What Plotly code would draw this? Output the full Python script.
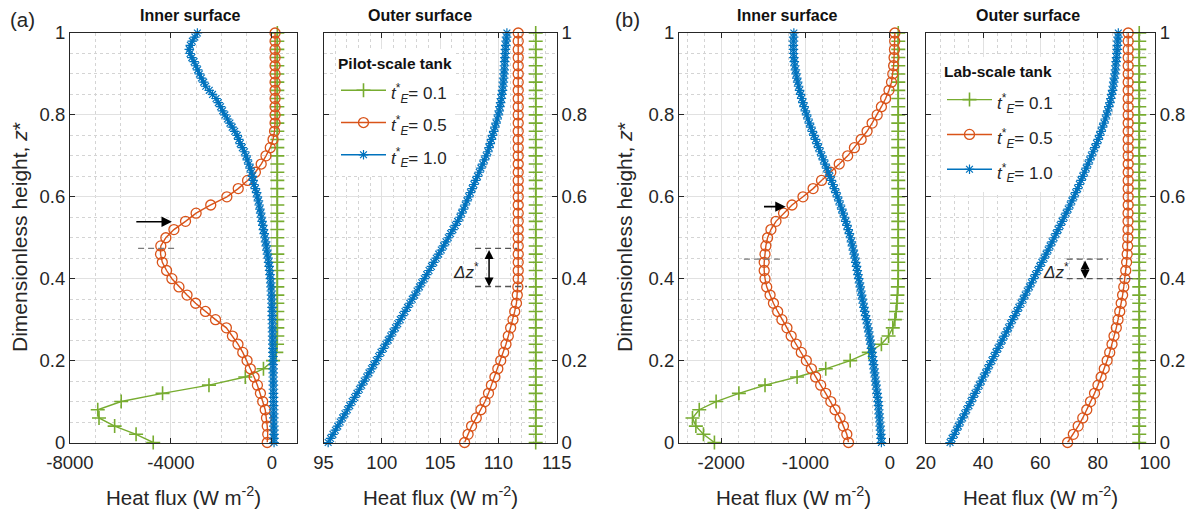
import plotly.graph_objects as go

# ---------------- data ----------------
Z_COARSE = [0.00, 0.02, 0.04, 0.06, 0.08, 0.10, 0.12, 0.14, 0.16, 0.18,
            0.20, 0.22, 0.24, 0.26, 0.28, 0.30, 0.32, 0.34, 0.36, 0.38,
            0.40, 0.42, 0.44, 0.46, 0.48, 0.50, 0.52, 0.54, 0.56, 0.58,
            0.60, 0.62, 0.64, 0.66, 0.68, 0.70, 0.72, 0.74, 0.76, 0.78,
            0.80, 0.82, 0.84, 0.86, 0.88, 0.90, 0.92, 0.94, 0.96, 0.98, 1.00]
Z_FINE = [0.00, 0.01, 0.02, 0.03, 0.04, 0.05, 0.06, 0.07, 0.08, 0.09,
          0.10, 0.11, 0.12, 0.13, 0.14, 0.15, 0.16, 0.17, 0.18, 0.19,
          0.20, 0.21, 0.22, 0.23, 0.24, 0.25, 0.26, 0.27, 0.28, 0.29,
          0.30, 0.31, 0.32, 0.33, 0.34, 0.35, 0.36, 0.37, 0.38, 0.39,
          0.40, 0.41, 0.42, 0.43, 0.44, 0.45, 0.46, 0.47, 0.48, 0.49,
          0.50, 0.51, 0.52, 0.53, 0.54, 0.55, 0.56, 0.57, 0.58, 0.59,
          0.60, 0.61, 0.62, 0.63, 0.64, 0.65, 0.66, 0.67, 0.68, 0.69,
          0.70, 0.71, 0.72, 0.73, 0.74, 0.75, 0.76, 0.77, 0.78, 0.79,
          0.80, 0.81, 0.82, 0.83, 0.84, 0.85, 0.86, 0.87, 0.88, 0.89,
          0.90, 0.91, 0.92, 0.93, 0.94, 0.95, 0.96, 0.97, 0.98, 0.99, 1.00]

SERIES_LABELS = ["0.1", "0.5", "1.0"]

# (a) pilot-scale tank, inner surface
A_IN_T01 = [-4700, -5380, -6230, -6850, -6900, -5970, -4330, -2490, -1050, -330,
            50, 180, 210, 220, 220, 220, 220, 220, 220, 220,
            220, 220, 220, 220, 220, 220, 220, 220, 220, 220,
            220, 220, 220, 220, 220, 220, 220, 220, 220, 220,
            220, 220, 220, 220, 220, 220, 220, 220, 220, 220, 220]
A_IN_T05 = [-180, -160, -180, -210, -260, -360, -450, -570, -700, -850,
            -980, -1150, -1340, -1560, -1800, -2230, -2630, -3020, -3360, -3680,
            -3960, -4170, -4340, -4410, -4400, -4200, -3880, -3420, -3000, -2420,
            -1780, -1330, -960, -650, -420, -230, -60, 50, 110, 130,
            130, 130, 130, 130, 130, 130, 130, 130, 130, 130, 130]
A_IN_T10 = [90, 88, 86, 84, 82, 80, 79, 77, 75, 73,
            71, 69, 67, 65, 63, 61, 59, 57, 55, 52,
            50, 48, 45, 43, 40, 37, 34, 31, 28, 25,
            22, 18, 15, 10, 5, 0, -10, -20, -30, -40,
            -55, -70, -85, -105, -125, -145, -170, -195, -220, -245,
            -270, -300, -330, -355, -385, -410, -440, -470, -500, -530,
            -570, -600, -650, -710, -740, -770, -800, -860, -910, -970,
            -1020, -1080, -1170, -1250, -1310, -1370, -1470, -1570, -1660, -1760,
            -1860, -1950, -2030, -2120, -2210, -2350, -2480, -2620, -2700, -2790,
            -2870, -2940, -3010, -3080, -3170, -3240, -3270, -3230, -3150, -3050, -2950]

# (a) pilot-scale tank, outer surface
A_OUT_T01 = [113.2, 113.2, 113.2, 113.2, 113.2, 113.2, 113.2, 113.2, 113.2, 113.2,
             113.2, 113.2, 113.2, 113.2, 113.2, 113.2, 113.2, 113.2, 113.2, 113.2,
             113.2, 113.2, 113.2, 113.2, 113.2, 113.2, 113.2, 113.2, 113.2, 113.2,
             113.2, 113.2, 113.2, 113.2, 113.2, 113.2, 113.2, 113.2, 113.2, 113.2,
             113.2, 113.2, 113.2, 113.2, 113.2, 113.2, 113.2, 113.2, 113.2, 113.2, 113.2]
A_OUT_T05 = [107.1, 107.4, 107.7, 108.1, 108.5, 108.85, 109.15, 109.4, 109.7, 109.95,
             110.2, 110.45, 110.65, 110.85, 111.05, 111.25, 111.4, 111.55, 111.62, 111.67,
             111.7, 111.7, 111.7, 111.7, 111.7, 111.7, 111.7, 111.7, 111.7, 111.7,
             111.7, 111.7, 111.7, 111.7, 111.7, 111.7, 111.7, 111.7, 111.7, 111.7,
             111.7, 111.7, 111.7, 111.7, 111.7, 111.7, 111.7, 111.7, 111.7, 111.7, 111.7]
A_OUT_T10 = [95.40, 95.61, 95.81, 96.02, 96.22, 96.43, 96.64, 96.84, 97.05, 97.25,
             97.46, 97.67, 97.87, 98.08, 98.28, 98.49, 98.70, 98.90, 99.11, 99.31,
             99.52, 99.73, 99.93, 100.14, 100.34, 100.55, 100.76, 100.96, 101.17, 101.37,
             101.58, 101.79, 101.99, 102.20, 102.40, 102.61, 102.82, 103.02, 103.23, 103.43,
             103.64, 103.85, 104.05, 104.26, 104.46, 104.67, 104.88, 105.1, 105.3, 105.5,
             105.7, 105.9, 106.1, 106.3, 106.5, 106.7, 106.85, 107.0, 107.15, 107.3,
             107.45, 107.6, 107.75, 107.9, 108.05, 108.2, 108.35, 108.5, 108.65, 108.8,
             108.95, 109.1, 109.2, 109.3, 109.4, 109.5, 109.6, 109.7, 109.8, 109.9,
             110.0, 110.07, 110.13, 110.19, 110.25, 110.3, 110.35, 110.39, 110.42, 110.45,
             110.48, 110.5, 110.52, 110.54, 110.56, 110.58, 110.6, 110.63, 110.66, 110.7, 110.73]

# (b) lab-scale tank, inner surface
B_IN_T01 = [-2080, -2210, -2300, -2340, -2260, -2060, -1790, -1480, -1100, -760,
            -470, -250, -100, -15, 35, 60, 75, 85, 90, 95,
            100, 100, 100, 100, 100, 100, 100, 100, 100, 100,
            100, 100, 100, 100, 100, 100, 100, 100, 100, 100,
            100, 100, 100, 100, 100, 100, 100, 100, 100, 100, 100]
B_IN_T05 = [-490, -510, -550, -590, -650, -700, -760, -820, -880, -930,
            -990, -1050, -1110, -1170, -1220, -1280, -1330, -1380, -1420, -1460,
            -1480, -1490, -1490, -1480, -1470, -1450, -1410, -1350, -1260, -1160,
            -1030, -910, -810, -700, -600, -500, -420, -340, -270, -210,
            -150, -100, -50, -10, 20, 35, 45, 50, 55, 58, 60]
B_IN_T10 = [-100, -103, -107, -111, -115, -119, -123, -127, -131, -135,
            -139, -145, -151, -157, -163, -169, -175, -181, -187, -193,
            -199, -205, -211, -218, -226, -234, -242, -250, -259, -268,
            -278, -288, -298, -307, -316, -325, -334, -342, -351, -360,
            -369, -378, -386, -395, -404, -413, -423, -433, -444, -455,
            -467, -480, -494, -508, -523, -538, -554, -570, -587, -604,
            -621, -639, -657, -675, -693, -711, -730, -749, -768, -787,
            -806, -825, -844, -863, -882, -901, -919, -937, -954, -971,
            -987, -1002, -1017, -1031, -1045, -1058, -1070, -1082, -1093, -1103,
            -1112, -1120, -1127, -1133, -1138, -1141, -1143, -1144, -1143, -1141, -1138]

# (b) lab-scale tank, outer surface
B_OUT_T01 = [94.5, 94.5, 94.5, 94.5, 94.5, 94.5, 94.5, 94.5, 94.5, 94.5,
             94.5, 94.5, 94.5, 94.5, 94.5, 94.5, 94.5, 94.5, 94.5, 94.5,
             94.5, 94.5, 94.5, 94.5, 94.5, 94.5, 94.5, 94.5, 94.5, 94.5,
             94.5, 94.5, 94.5, 94.5, 94.5, 94.5, 94.5, 94.5, 94.5, 94.5,
             94.5, 94.5, 94.5, 94.5, 94.5, 94.5, 94.5, 94.5, 94.5, 94.5, 94.5]
B_OUT_T05 = [69.5, 71.5, 73.2, 74.8, 76.2, 77.5, 78.9, 80.1, 81.2, 82.3,
             83.3, 84.2, 85.0, 85.7, 86.5, 87.1, 87.7, 88.2, 88.7, 89.1,
             89.5, 89.8, 90.1, 90.3, 90.45, 90.55, 90.6, 90.6, 90.6, 90.65,
             90.65, 90.65, 90.65, 90.65, 90.65, 90.65, 90.65, 90.65, 90.65, 90.65,
             90.65, 90.65, 90.65, 90.65, 90.65, 90.65, 90.65, 90.65, 90.65, 90.65, 90.65]
B_OUT_T10 = [28.5, 29.2, 30.0, 30.7, 31.4, 32.1, 32.9, 33.6, 34.3, 35.1,
             35.8, 36.5, 37.2, 38.0, 38.7, 39.4, 40.1, 40.9, 41.6, 42.3,
             43.1, 43.8, 44.5, 45.2, 46.0, 46.7, 47.4, 48.2, 48.9, 49.6,
             50.3, 51.1, 51.8, 52.5, 53.3, 54.0, 54.7, 55.4, 56.2, 56.9,
             57.6, 58.3, 59.1, 59.8, 60.5, 61.3, 62.0, 62.7, 63.4, 64.1,
             64.8, 65.5, 66.2, 66.9, 67.6, 68.3, 69.0, 69.7, 70.4, 71.0,
             71.7, 72.3, 73.0, 73.6, 74.2, 74.8, 75.4, 76.0, 76.6, 77.2,
             77.8, 78.4, 79.0, 79.6, 80.2, 80.7, 81.2, 81.7, 82.2, 82.7,
             83.1, 83.5, 83.9, 84.3, 84.6, 84.9, 85.2, 85.4, 85.6, 85.8,
             86.0, 86.2, 86.3, 86.45, 86.6, 86.7, 86.8, 86.9, 87.0, 87.1, 87.2]

# x-axis tick labels per panel
A_IN_TICKS = [-8000, -4000, 0]
A_IN_TICKTEXT = ["-8000", "-4000", "0"]
A_OUT_TICKS = [95, 100, 105, 110, 115]
B_IN_TICKS = [-2000, -1000, 0]
B_IN_TICKTEXT = ["-2000", "-1000", "0"]
B_OUT_TICKS = [20, 40, 60, 80, 100]
Y_TICKS = [0, 0.2, 0.4, 0.6, 0.8, 1]

# annotation geometry (data units)
A_IN_ARROW = dict(x0=-5430, x1=-3960, z=0.539)
A_IN_DASH = dict(x0=-5300, x1=-3720, z=0.474)
A_OUT_DASH_UP = dict(x0=108.0, x1=111.6, z=0.474)
A_OUT_DASH_LO = dict(x0=108.0, x1=112.45, z=0.381)
A_OUT_DZ = dict(x=109.2, text_x=107.25, text_z=0.42)
B_IN_ARROW = dict(x0=-1510, x1=-1235, z=0.576)
B_IN_DASH = dict(x0=-1730, x1=-1270, z=0.448)
B_OUT_DASH_UP = dict(x0=69.2, x1=83.6, z=0.448)
B_OUT_DASH_LO = dict(x0=69.2, x1=94.0, z=0.400)
B_OUT_DZ = dict(x=75.6, text_x=65.6, text_z=0.420)

# ---------------- styling ----------------
FONT = "Liberation Sans, Arial, Helvetica, sans-serif"
GREEN, ORANGE, BLUE = "#77AC30", "#D95319", "#0072BD"
AXC = "#262626"
W, H = 1199, 515

def px_x(p):
    return p / W

def px_y(p):
    return 1 - p / H

def legend_name(label):
    return ('<span style="font-size:17px"><i>t</i><sup>*</sup><sub><i>E</i></sub>= %s</span>'
            % label)

fig = go.Figure()

def add_panel(xa, ya, g, o, b, leg, show):
    fig.add_trace(go.Scatter(
        x=g, y=Z_COARSE, mode="lines+markers", name=legend_name(SERIES_LABELS[0]),
        xaxis=xa, yaxis=ya, legend=leg, showlegend=show, cliponaxis=False,
        line=dict(color=GREEN, width=1.4),
        marker=dict(symbol="cross-thin", size=10, color=GREEN,
                    line=dict(color=GREEN, width=1.6))))
    fig.add_trace(go.Scatter(
        x=o, y=Z_COARSE, mode="lines+markers", name=legend_name(SERIES_LABELS[1]),
        xaxis=xa, yaxis=ya, legend=leg, showlegend=show, cliponaxis=False,
        line=dict(color=ORANGE, width=1.4),
        marker=dict(symbol="circle-open", size=10, color=ORANGE,
                    line=dict(color=ORANGE, width=1.3))))
    fig.add_trace(go.Scatter(
        x=b, y=Z_FINE, mode="lines+markers", name=legend_name(SERIES_LABELS[2]),
        xaxis=xa, yaxis=ya, legend=leg, showlegend=show, cliponaxis=False,
        line=dict(color=BLUE, width=1.4),
        marker=dict(symbol="asterisk", size=8, color=BLUE,
                    line=dict(color=BLUE, width=1.2))))

add_panel("x", "y", A_IN_T01, A_IN_T05, A_IN_T10, "legend", False)
add_panel("x2", "y2", A_OUT_T01, A_OUT_T05, A_OUT_T10, "legend", True)
add_panel("x3", "y3", B_IN_T01, B_IN_T05, B_IN_T10, "legend2", False)
add_panel("x4", "y4", B_OUT_T01, B_OUT_T05, B_OUT_T10, "legend2", True)

YDOM = [px_y(442.5), px_y(33)]
tickfont = dict(family=FONT, size=18.5, color=AXC)

def xaxis(dom, rng, tickvals, ticktext, minor_dtick, minor_tick0, anchor):
    return dict(domain=dom, range=rng, anchor=anchor,
                tickmode="array", tickvals=tickvals, ticktext=ticktext,
                ticks="inside", ticklen=5, tickcolor=AXC, tickwidth=1,
                ticklabelstandoff=3,
                showline=True, linecolor=AXC, linewidth=1, mirror="ticks",
                showgrid=True, gridcolor="#e1e1e1", gridwidth=1, zeroline=False,
                minor=dict(tick0=minor_tick0, dtick=minor_dtick, showgrid=True,
                           gridcolor="#d4d4d4", griddash="dot", gridwidth=1, ticks=""),
                tickfont=tickfont, fixedrange=True, automargin=False)

def yaxis(side, anchor):
    return dict(domain=YDOM, range=[0, 1], anchor=anchor, side=side,
                tickmode="array", tickvals=Y_TICKS,
                ticktext=["0", "0.2", "0.4", "0.6", "0.8", "1"],
                ticks="inside", ticklen=5, tickcolor=AXC, tickwidth=1,
                showline=True, linecolor=AXC, linewidth=1, mirror="ticks",
                showgrid=True, gridcolor="#e1e1e1", gridwidth=1, zeroline=False,
                minor=dict(tick0=0, dtick=0.05, showgrid=True,
                           gridcolor="#d4d4d4", griddash="dot", gridwidth=1, ticks=""),
                tickfont=tickfont, fixedrange=True, automargin=False)

fig.update_layout(
    width=W, height=H,
    margin=dict(l=0, r=0, t=0, b=0, pad=0, autoexpand=False),
    paper_bgcolor="white", plot_bgcolor="white",
    font=dict(family=FONT, color=AXC),
    xaxis=xaxis([px_x(70), px_x(297)], [-8000, 1000], A_IN_TICKS, A_IN_TICKTEXT, 1000, -8000, "y"),
    xaxis2=xaxis([px_x(323.5), px_x(556.7)], [95, 115], A_OUT_TICKS,
                 [str(v) for v in A_OUT_TICKS], 1, 95, "y2"),
    xaxis3=xaxis([px_x(679), px_x(906.7)], [-2500, 200], B_IN_TICKS, B_IN_TICKTEXT, 200, -2000, "y3"),
    xaxis4=xaxis([px_x(925.7), px_x(1155)], [20, 100], B_OUT_TICKS,
                 [str(v) for v in B_OUT_TICKS], 5, 20, "y4"),
    yaxis=yaxis("left", "x"),
    yaxis2=yaxis("right", "x2"),
    yaxis3=yaxis("left", "x3"),
    yaxis4=yaxis("right", "x4"),
    legend=dict(x=px_x(336), y=px_y(49), xanchor="left", yanchor="top",
                bgcolor="white", borderwidth=0,
                font=dict(family=FONT, size=22.5, color=AXC),
                title=dict(text="<b>Pilot-scale tank</b>",
                           font=dict(family=FONT, size=15.5, color="#111111")),
                itemwidth=45, tracegroupgap=0),
    legend2=dict(x=px_x(942), y=px_y(57), xanchor="left", yanchor="top",
                 bgcolor="white", borderwidth=0,
                 font=dict(family=FONT, size=24.5, color=AXC),
                 title=dict(text="<b>Lab-scale tank</b>",
                            font=dict(family=FONT, size=15.5, color="#111111")),
                 itemwidth=45, tracegroupgap=0),
)

# texts: panel labels, titles, axis titles
def txt(x, y, text, size, bold=False, angle=0, color="#111111"):
    fig.add_annotation(x=px_x(x), y=px_y(y), xref="paper", yref="paper",
                       text=("<b>%s</b>" % text) if bold else text, showarrow=False,
                       textangle=angle, xanchor="center", yanchor="middle",
                       font=dict(family=FONT, size=size, color=color))

txt(22, 20, "(a)", 20.5, color=AXC)
txt(627, 20, "(b)", 20.5, color=AXC)
txt(190, 16, "Inner surface", 16, bold=True)
txt(420, 16, "Outer surface", 16, bold=True)
txt(787, 16, "Inner surface", 16, bold=True)
txt(1028, 16, "Outer surface", 16, bold=True)
ylab = "Dimensionless height, <i>z</i>*"
txt(19, 237, ylab, 21, angle=-90, color=AXC)
txt(624, 237, ylab, 21, angle=-90, color=AXC)
xlab = "Heat flux (W m<sup>-2</sup>)"
for cx in (183.5, 440, 793, 1040):
    txt(cx, 496, xlab, 20.5, color=AXC)

# dashed guide lines
def dash(xr, yr, d, color):
    fig.add_shape(type="line", xref=xr, yref=yr, x0=d["x0"], x1=d["x1"],
                  y0=d["z"], y1=d["z"], line=dict(color=color, width=1.3, dash="6px,4px"))

dash("x", "y", A_IN_DASH, "#7a7a7a")
dash("x2", "y2", A_OUT_DASH_UP, "#555555")
dash("x2", "y2", A_OUT_DASH_LO, "#555555")
dash("x3", "y3", B_IN_DASH, "#7a7a7a")
dash("x4", "y4", B_OUT_DASH_UP, "#555555")
dash("x4", "y4", B_OUT_DASH_LO, "#555555")

# arrows pointing at the inflection points
def arrow(xr, yr, d):
    fig.add_annotation(x=d["x1"], y=d["z"], ax=d["x0"], ay=d["z"], xref=xr, yref=yr,
                       axref=xr, ayref=yr, text="", showarrow=True, arrowhead=2,
                       arrowsize=1.3, arrowwidth=1.6, arrowcolor="black", standoff=0)

arrow("x", "y", A_IN_ARROW)
arrow("x3", "y3", B_IN_ARROW)

def dz(xr, yr, d, up, lo):
    fig.add_annotation(x=d["x"], y=lo["z"], ax=d["x"], ay=up["z"], xref=xr, yref=yr,
                       axref=xr, ayref=yr, text="", showarrow=True, arrowhead=2,
                       arrowside="end+start", arrowsize=1.2, arrowwidth=1.5,
                       arrowcolor="black", standoff=0, startstandoff=0, startarrowhead=2,
                       startarrowsize=1.2)
    fig.add_annotation(x=d["text_x"], y=d["text_z"], xref=xr, yref=yr,
                       text="<i>\u0394z</i><sup>*</sup>", showarrow=False,
                       font=dict(family=FONT, size=17, color=AXC))

dz("x2", "y2", A_OUT_DZ, A_OUT_DASH_UP, A_OUT_DASH_LO)
dz("x4", "y4", B_OUT_DZ, B_OUT_DASH_UP, B_OUT_DASH_LO)

fig.write_html("out.html",
               config={"displayModeBar": False, "staticPlot": False},
               post_script="document.body.style.margin='0px';"
                           "document.documentElement.style.margin='0px';")
